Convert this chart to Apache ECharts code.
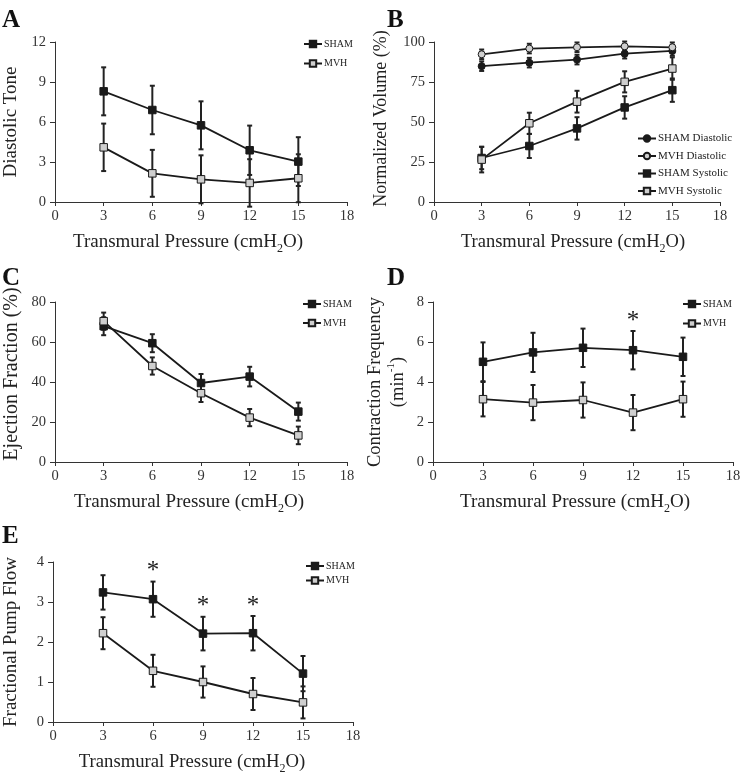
<!DOCTYPE html>
<html>
<head>
<meta charset="utf-8">
<script src="https://cdn.jsdelivr.net/npm/echarts@6/dist/echarts.min.js"></script>
<style>
  html, body { margin: 0; padding: 0; background: #fff; }
  #main { width: 741px; height: 779px; }
</style>
</head>
<body>
<div id="main"></div>
<script>
'use strict';

// transmural pressure, cmH2O
var pressure = [3, 6, 9, 12, 15];

// A - diastolic tone
var aSham = [8.3, 6.9, 5.75, 3.88, 3.03];
var aShamErr = [1.8, 1.82, 1.8, 1.85, 1.83];
var aMvh = [4.1, 2.15, 1.7, 1.43, 1.78];
var aMvhErr = [1.78, 1.76, 1.8, 1.78, 1.8];

// B - normalized volume (%)
var bShamDia = [84.9, 87.1, 89, 92.7, 94.4];
var bShamDiaErr = [3, 3, 3, 3, 3];
var bMvhDia = [92.3, 95.9, 96.7, 97.3, 96.7];
var bMvhDiaErr = [3, 3, 3, 3, 3];
var bShamSys = [27.5, 35, 46, 59.1, 69.9];
var bShamSysErr = [7, 7.5, 7, 7, 7.3];
var bMvhSys = [26.5, 49.2, 62.7, 75.1, 83.4];
var bMvhSysErr = [8, 6.6, 6.8, 6.6, 7];

// C - ejection fraction (%)
var cSham = [67.9, 59.4, 39.5, 42.7, 25.2];
var cShamErr = [4.5, 4.5, 4.5, 4.9, 4.5];
var cMvh = [70.4, 48, 34.4, 22.2, 13.3];
var cMvhErr = [4.3, 4.3, 4.4, 4.3, 4.4];

// D - contraction frequency (min-1)
var dSham = [5.01, 5.48, 5.71, 5.59, 5.26];
var dShamErr = [0.97, 0.98, 0.96, 0.96, 0.96];
var dMvh = [3.14, 2.97, 3.1, 2.47, 3.14];
var dMvhErr = [0.86, 0.88, 0.88, 0.88, 0.88];
var dStarX = [12];
var dStarY = [7.25];

// E - fractional pump flow
var eSham = [3.24, 3.07, 2.21, 2.22, 1.21];
var eShamErr = [0.43, 0.44, 0.42, 0.43, 0.44];
var eMvh = [2.22, 1.28, 1.0, 0.70, 0.49];
var eMvhErr = [0.4, 0.4, 0.39, 0.4, 0.4];
var eStarX = [6, 9, 12];
var eStarY = [3.86, 2.99, 2.99];

var FONT = '"Liberation Serif", "DejaVu Serif", serif';
var INK = '#222';

var chart = echarts.init(document.getElementById('main'));

// panels: grid box, y range, title sizes and nudges
var panels = [
	{ left: 55, top: 42, width: 292, height: 160, ymax: 12, step: 3, yname: 'Diastolic Tone', gap: 33, ysize: 19, ypad: [0, 0, 0, 0], xsize: 19, xpad: [0, 26, 0, 0] },
	{ left: 434, top: 42, width: 286, height: 160, ymax: 100, step: 25, yname: 'Normalized Volume (%)', gap: 42, ysize: 18, ypad: [0, 0, 0, 7], xsize: 18.5, xpad: [0, 8, 0, 0] },
	{ left: 55, top: 302, width: 292, height: 160, ymax: 80, step: 20, yname: 'Ejection Fraction (%)', gap: 33, ysize: 20, ypad: [0, 0, 0, 16], xsize: 19, xpad: [0, 24, 0, 0] },
	{ left: 433, top: 302, width: 300, height: 160, ymax: 8, step: 2, yname: 'Contraction Frequency\n(min{sup|-1})', gap: 23, ysize: 18.5, ypad: [0, 0, 0, 0], xsize: 19, xpad: [0, 16, 0, 0] },
	{ left: 53, top: 562, width: 300, height: 160, ymax: 4, step: 1, yname: 'Fractional Pump Flow', gap: 31, ysize: 19, ypad: [0, 0, 0, 0], xsize: 18.7, xpad: [0, 22, 0, 0] }
];

var grids = [], xAxes = [], yAxes = [];
panels.forEach(function (p) {
	grids.push({ left: p.left, top: p.top, width: p.width, height: p.height, containLabel: false, outerBoundsMode: 'none' });
	xAxes.push({
		gridIndex: grids.length - 1, type: 'value', min: 0, max: 18, interval: 3,
		name: 'Transmural Pressure (cmH{sub|2}O)', nameLocation: 'middle', nameGap: 27,
		nameTextStyle: {
			fontFamily: FONT, fontSize: p.xsize, color: INK, padding: p.xpad,
			rich: { sub: { fontFamily: FONT, fontSize: 12, color: INK, verticalAlign: 'bottom', lineHeight: 26 } }
		},
		axisLine: { lineStyle: { color: '#333', width: 1 } },
		axisTick: { length: 4, lineStyle: { color: '#333' } },
		axisLabel: { fontFamily: FONT, fontSize: 14.5, color: '#333', margin: 7 },
		splitLine: { show: false }
	});
	yAxes.push({
		gridIndex: grids.length - 1, type: 'value', min: 0, max: p.ymax, interval: p.step,
		name: p.yname, nameLocation: 'middle', nameGap: p.gap,
		nameTextStyle: {
			fontFamily: FONT, fontSize: p.ysize, color: INK, lineHeight: 21, padding: p.ypad,
			rich: { sup: { fontFamily: FONT, fontSize: 11, color: INK, verticalAlign: 'top', lineHeight: 24 } }
		},
		axisLine: { show: true, lineStyle: { color: '#333', width: 1 } },
		axisTick: { show: true, length: 5, lineStyle: { color: '#333' } },
		axisLabel: { fontFamily: FONT, fontSize: 14.5, color: '#333', margin: 9 },
		splitLine: { show: false }
	});
});

function pairs(ys) {
	return pressure.map(function (x, i) { return [x, ys[i]]; });
}

function errData(ys, errs) {
	return pressure.map(function (x, i) { return [x, ys[i] - errs[i], ys[i] + errs[i]]; });
}

function renderErr(params, api) {
	var x = api.value(0);
	var top = api.coord([x, api.value(2)]);
	var bot = api.coord([x, api.value(1)]);
	var cap = 2.5;
	var st = { stroke: INK, lineWidth: 2 };
	return {
		type: 'group',
		children: [
			{ type: 'line', shape: { x1: top[0], y1: top[1], x2: bot[0], y2: bot[1] }, style: st },
			{ type: 'line', shape: { x1: top[0] - cap, y1: top[1], x2: top[0] + cap, y2: top[1] }, style: st },
			{ type: 'line', shape: { x1: bot[0] - cap, y1: bot[1], x2: bot[0] + cap, y2: bot[1] }, style: st }
		]
	};
}

// the asterisk glyph sits high in its box, so push it down a little
function renderStar(params, api) {
	var p = api.coord([api.value(0), api.value(1)]);
	return {
		type: 'text', x: p[0], y: p[1] + 4,
		style: { text: '*', fontFamily: FONT, fontSize: 25, fill: INK, align: 'center', verticalAlign: 'middle' }
	};
}

var series = [];

function addGroup(idx, name, ys, errs, symbol, fill) {
	series.push({
		type: 'custom', xAxisIndex: idx, yAxisIndex: idx, z: 1,
		renderItem: renderErr, data: errData(ys, errs), silent: true
	});
	series.push({
		type: 'line', name: name, xAxisIndex: idx, yAxisIndex: idx, z: 3,
		data: pairs(ys), symbol: symbol, symbolSize: symbol === 'circle' ? 7 : 7.5,
		lineStyle: { color: '#1a1a1a', width: 1.8 },
		itemStyle: { color: fill, borderColor: '#1a1a1a', borderWidth: 1 }
	});
}

function addStars(idx, xs, ys) {
	series.push({
		type: 'custom', xAxisIndex: idx, yAxisIndex: idx, z: 4, silent: true,
		renderItem: renderStar, data: xs.map(function (x, i) { return [x, ys[i]]; })
	});
}

var BLACK = '#1a1a1a', GRAY = '#cfcfcf';

addGroup(0, 'SHAM', aSham, aShamErr, 'rect', BLACK);
addGroup(0, 'MVH', aMvh, aMvhErr, 'rect', GRAY);

addGroup(1, 'SHAM Diastolic', bShamDia, bShamDiaErr, 'circle', BLACK);
addGroup(1, 'MVH Diastolic', bMvhDia, bMvhDiaErr, 'circle', GRAY);
addGroup(1, 'SHAM Systolic', bShamSys, bShamSysErr, 'rect', BLACK);
addGroup(1, 'MVH Systolic', bMvhSys, bMvhSysErr, 'rect', GRAY);

addGroup(2, 'SHAM', cSham, cShamErr, 'rect', BLACK);
addGroup(2, 'MVH', cMvh, cMvhErr, 'rect', GRAY);

addGroup(3, 'SHAM', dSham, dShamErr, 'rect', BLACK);
addGroup(3, 'MVH', dMvh, dMvhErr, 'rect', GRAY);
addStars(3, dStarX, dStarY);

addGroup(4, 'SHAM', eSham, eShamErr, 'rect', BLACK);
addGroup(4, 'MVH', eMvh, eMvhErr, 'rect', GRAY);
addStars(4, eStarX, eStarY);

function legend(names, left, top, gap, size) {
	return {
		data: names, orient: 'vertical', left: left, top: top, itemGap: gap,
		itemWidth: 18, itemHeight: 8, padding: 0, selectedMode: false,
		textStyle: { fontFamily: FONT, fontSize: size, color: INK, padding: [0, 0, 0, -3] }
	};
}

var legends = [
	legend(['SHAM', 'MVH'], 303, 39, 9.5, 10),
	legend(['SHAM Diastolic', 'MVH Diastolic', 'SHAM Systolic', 'MVH Systolic'], 637, 133, 6.5, 11),
	legend(['SHAM', 'MVH'], 302, 299, 9, 10),
	legend(['SHAM', 'MVH'], 682, 299, 9.5, 10),
	legend(['SHAM', 'MVH'], 305, 561, 4.5, 10)
];

function letter(t, x, y) {
	return { type: 'text', left: x, top: y, style: { text: t, fontFamily: FONT, fontWeight: 'bold', fontSize: 25, fill: '#111' } };
}

chart.setOption({
	animation: false,
	grid: grids,
	xAxis: xAxes,
	yAxis: yAxes,
	legend: legends,
	series: series,
	graphic: [
		letter('A', 2, 8),
		letter('B', 387, 8),
		letter('C', 2, 266),
		letter('D', 387, 266),
		letter('E', 2, 524)
	]
});
</script>
</body>
</html>
